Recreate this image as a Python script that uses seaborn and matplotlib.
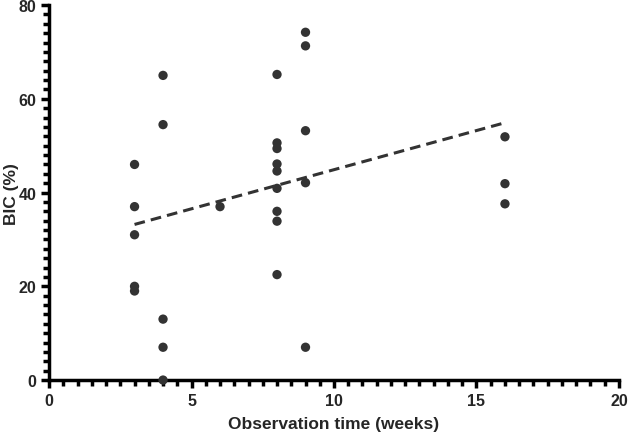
import numpy as np
import pandas as pd
import seaborn as sns
import matplotlib.pyplot as plt
from matplotlib.ticker import MultipleLocator

# data
weeks = [3, 3, 3, 3, 3,
         4, 4, 4, 4, 4,
         6,
         8, 8, 8, 8, 8, 8, 8, 8, 8,
         9, 9, 9, 9, 9,
         16, 16, 16]
bic = [46, 37, 31, 20, 19,
       65, 54.5, 13, 7, 0,
       37,
       65.2, 50.6, 49.4, 46.1, 44.6, 40.9, 36, 33.9, 22.5,
       74.2, 71.3, 53.2, 42.1, 7,
       51.9, 41.9, 37.6]

# trend line as drawn
trend_x = [3, 16]
trend_y = [33.2, 54.9]

df = pd.DataFrame({'weeks': weeks, 'bic': bic})

sns.set_style('ticks')
plt.rcParams['font.family'] = ['Liberation Sans', 'DejaVu Sans']

fig = plt.figure(figsize=(6.29, 4.35), dpi=100)
ax = fig.add_axes([0.078, 0.124, 0.906, 0.862])

sns.scatterplot(data=df, x='weeks', y='bic', color='#333333', s=45,
                edgecolor='none', ax=ax, clip_on=False, zorder=3)
sns.lineplot(x=trend_x, y=trend_y, color='#333333', lw=2.2,
             linestyle=(0, (3.5, 2)), ax=ax)

ax.set_xlim(0, 20)
ax.set_ylim(0, 80)
ax.xaxis.set_major_locator(MultipleLocator(5))
ax.xaxis.set_minor_locator(MultipleLocator(0.5))
ax.yaxis.set_major_locator(MultipleLocator(20))
ax.yaxis.set_minor_locator(MultipleLocator(2))

sns.despine(ax=ax)
for side in ['left', 'bottom']:
    ax.spines[side].set_linewidth(2.5)
    ax.spines[side].set_color('black')
ax.tick_params(which='major', length=6, width=2.5, color='black',
               labelsize=11.5, pad=3)
ax.tick_params(which='minor', length=4, width=2.5, color='black')
for lbl in ax.get_xticklabels() + ax.get_yticklabels():
    lbl.set_fontweight('bold')

ax.set_xlabel('Observation time (weeks)', fontsize=12.5, fontweight='bold', labelpad=6)
ax.set_ylabel('BIC (%)', fontsize=12.5, fontweight='bold')
ax.yaxis.set_label_coords(-0.053, 0.5)

fig.savefig('out.png', dpi=100)
